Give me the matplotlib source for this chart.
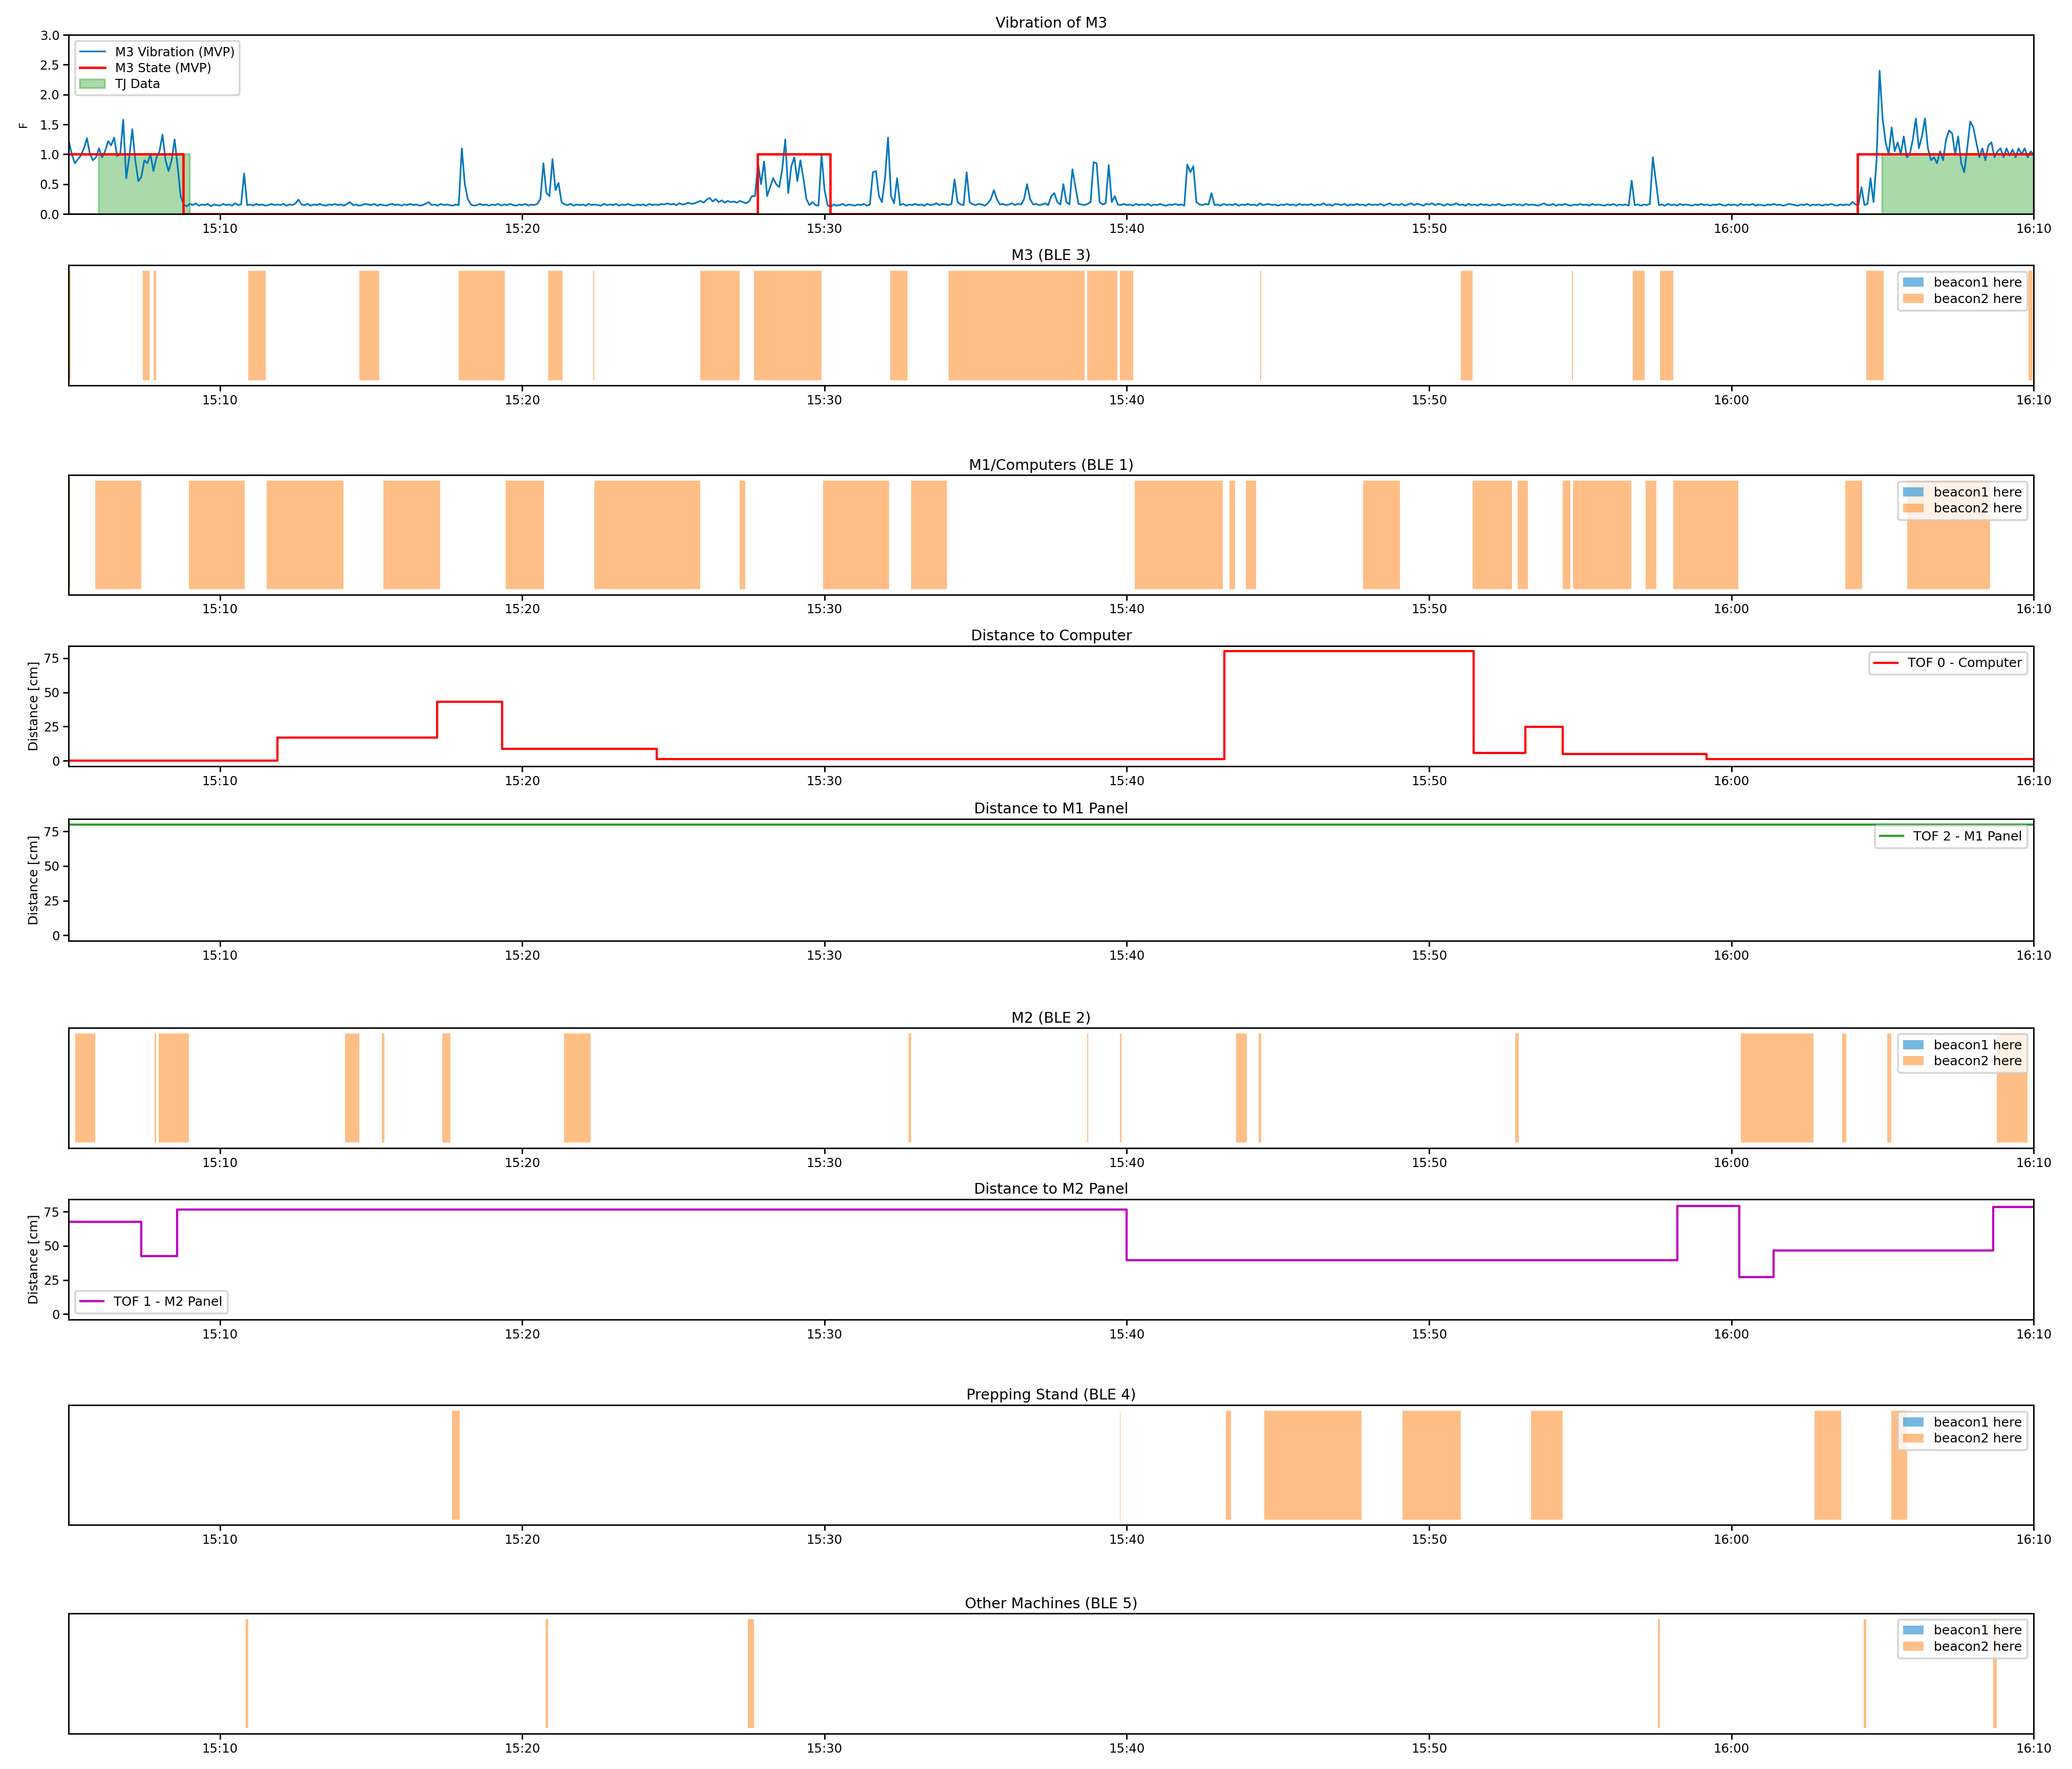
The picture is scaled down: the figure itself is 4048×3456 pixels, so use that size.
import datetime as dt

import matplotlib
matplotlib.use("Agg")
import matplotlib.dates as mdates
import matplotlib.pyplot as plt
from matplotlib.patches import Patch
import numpy as np

BASE = dt.datetime(2023, 5, 10, 15, 0)   # minutes below are counted from 15:00
XLIM = (5.0, 70.0)

# M3 vibration, one reading every 0.1 min starting 15:05 (rows = one minute)
VIB_START, VIB_STEP = 5.0, 0.1
VIB = [
    1.22, 1.00, 0.85, 0.92, 0.98, 1.10, 1.27, 1.00, 0.90, 0.95,  # 5
    1.10, 0.95, 1.05, 1.22, 1.15, 1.28, 0.97, 1.00, 1.58, 0.60,  # 6
    0.95, 1.42, 0.90, 0.55, 0.62, 0.90, 0.85, 1.00, 0.72, 0.95,  # 7
    1.05, 1.33, 0.90, 0.72, 0.90, 1.25, 0.80, 0.30, 0.16, 0.13,  # 8
    0.17, 0.15, 0.18, 0.14, 0.16, 0.15, 0.17, 0.13, 0.16, 0.15,  # 9
    0.14, 0.17, 0.15, 0.16, 0.14, 0.18, 0.15, 0.16, 0.68, 0.15,  # 10
    0.16, 0.14, 0.17, 0.15, 0.16, 0.14, 0.15, 0.17, 0.15, 0.16,  # 11
    0.15, 0.17, 0.14, 0.16, 0.15, 0.18, 0.24, 0.16, 0.15, 0.17,  # 12
    0.14, 0.16, 0.15, 0.17, 0.15, 0.14, 0.16, 0.15, 0.17, 0.15,  # 13
    0.16, 0.14, 0.17, 0.20, 0.15, 0.16, 0.14, 0.15, 0.17, 0.16,  # 14
    0.15, 0.17, 0.14, 0.16, 0.15, 0.14, 0.16, 0.17, 0.15, 0.16,  # 15
    0.14, 0.16, 0.15, 0.17, 0.15, 0.16, 0.14, 0.15, 0.17, 0.20,  # 16
    0.15, 0.16, 0.14, 0.17, 0.15, 0.16, 0.15, 0.14, 0.16, 0.15,  # 17
    1.10, 0.50, 0.25, 0.16, 0.14, 0.15, 0.17, 0.15, 0.16, 0.14,  # 18
    0.16, 0.15, 0.17, 0.14, 0.16, 0.15, 0.17, 0.15, 0.14, 0.16,  # 19
    0.15, 0.17, 0.14, 0.16, 0.15, 0.17, 0.25, 0.85, 0.35, 0.30,  # 20
    0.92, 0.40, 0.52, 0.20, 0.16, 0.15, 0.17, 0.14, 0.16, 0.15,  # 21
    0.16, 0.14, 0.17, 0.15, 0.16, 0.15, 0.14, 0.17, 0.15, 0.16,  # 22
    0.15, 0.17, 0.14, 0.16, 0.15, 0.17, 0.15, 0.14, 0.16, 0.15,  # 23
    0.16, 0.14, 0.17, 0.15, 0.16, 0.15, 0.17, 0.16, 0.18, 0.16,  # 24
    0.17, 0.15, 0.18, 0.16, 0.17, 0.19, 0.17, 0.18, 0.20, 0.22,  # 25
    0.19, 0.24, 0.27, 0.21, 0.25, 0.20, 0.23, 0.19, 0.22, 0.20,  # 26
    0.21, 0.19, 0.22, 0.20, 0.18, 0.21, 0.30, 0.30, 0.85, 0.50,  # 27
    0.88, 0.30, 0.45, 0.60, 0.50, 0.45, 0.75, 1.25, 0.35, 0.80,  # 28
    0.95, 0.55, 0.90, 0.60, 0.25, 0.15, 0.20, 0.15, 0.14, 1.00,  # 29
    0.40, 0.15, 0.12, 0.16, 0.14, 0.15, 0.17, 0.14, 0.16, 0.15,  # 30
    0.14, 0.16, 0.15, 0.17, 0.14, 0.16, 0.70, 0.72, 0.30, 0.20,  # 31
    0.60, 1.28, 0.30, 0.18, 0.60, 0.15, 0.17, 0.14, 0.16, 0.15,  # 32
    0.17, 0.15, 0.16, 0.14, 0.17, 0.15, 0.16, 0.18, 0.15, 0.17,  # 33
    0.16, 0.15, 0.17, 0.58, 0.20, 0.16, 0.15, 0.70, 0.20, 0.16,  # 34
    0.15, 0.17, 0.16, 0.14, 0.18, 0.25, 0.40, 0.25, 0.16, 0.17,  # 35
    0.15, 0.16, 0.18, 0.15, 0.17, 0.16, 0.25, 0.50, 0.25, 0.16,  # 36
    0.17, 0.15, 0.16, 0.18, 0.15, 0.30, 0.35, 0.20, 0.16, 0.50,  # 37
    0.20, 0.16, 0.75, 0.45, 0.17, 0.16, 0.15, 0.17, 0.20, 0.87,  # 38
    0.85, 0.20, 0.16, 0.18, 0.82, 0.20, 0.30, 0.16, 0.15, 0.17,  # 39
    0.15, 0.16, 0.14, 0.17, 0.15, 0.16, 0.15, 0.17, 0.14, 0.16,  # 40
    0.15, 0.17, 0.15, 0.14, 0.16, 0.15, 0.17, 0.15, 0.16, 0.14,  # 41
    0.83, 0.70, 0.80, 0.20, 0.16, 0.15, 0.17, 0.16, 0.35, 0.15,  # 42
    0.16, 0.14, 0.17, 0.15, 0.16, 0.15, 0.17, 0.14, 0.16, 0.15,  # 43
    0.17, 0.15, 0.16, 0.14, 0.18, 0.15, 0.16, 0.17, 0.15, 0.16,  # 44
    0.14, 0.16, 0.15, 0.17, 0.15, 0.16, 0.14, 0.17, 0.15, 0.16,  # 45
    0.15, 0.17, 0.14, 0.16, 0.15, 0.18, 0.15, 0.16, 0.14, 0.17,  # 46
    0.16, 0.15, 0.17, 0.14, 0.16, 0.15, 0.17, 0.15, 0.16, 0.14,  # 47
    0.17, 0.15, 0.16, 0.15, 0.17, 0.14, 0.16, 0.18, 0.15, 0.16,  # 48
    0.15, 0.17, 0.14, 0.16, 0.18, 0.15, 0.17, 0.16, 0.14, 0.17,  # 49
    0.16, 0.18, 0.15, 0.17, 0.16, 0.14, 0.17, 0.15, 0.16, 0.18,  # 50
    0.15, 0.16, 0.14, 0.17, 0.15, 0.16, 0.14, 0.17, 0.15, 0.16,  # 51
    0.14, 0.16, 0.15, 0.17, 0.15, 0.14, 0.16, 0.15, 0.17, 0.15,  # 52
    0.16, 0.14, 0.17, 0.15, 0.16, 0.15, 0.14, 0.16, 0.18, 0.15,  # 53
    0.15, 0.17, 0.14, 0.16, 0.15, 0.17, 0.15, 0.14, 0.16, 0.15,  # 54
    0.17, 0.15, 0.16, 0.14, 0.17, 0.15, 0.16, 0.15, 0.14, 0.16,  # 55
    0.15, 0.17, 0.14, 0.16, 0.15, 0.16, 0.14, 0.56, 0.15, 0.16,  # 56
    0.14, 0.16, 0.15, 0.17, 0.95, 0.55, 0.15, 0.16, 0.14, 0.17,  # 57
    0.15, 0.16, 0.14, 0.17, 0.15, 0.16, 0.15, 0.14, 0.16, 0.15,  # 58
    0.17, 0.15, 0.16, 0.14, 0.16, 0.15, 0.17, 0.15, 0.14, 0.16,  # 59
    0.15, 0.16, 0.14, 0.17, 0.15, 0.16, 0.15, 0.17, 0.14, 0.16,  # 60
    0.15, 0.14, 0.16, 0.15, 0.17, 0.15, 0.16, 0.14, 0.15, 0.17,  # 61
    0.16, 0.15, 0.14, 0.16, 0.15, 0.17, 0.14, 0.16, 0.15, 0.16,  # 62
    0.14, 0.16, 0.15, 0.17, 0.15, 0.14, 0.16, 0.15, 0.16, 0.15,  # 63
    0.20, 0.16, 0.15, 0.45, 0.15, 0.17, 0.60, 0.20, 0.90, 2.40,  # 64
    1.60, 1.20, 1.00, 1.45, 1.05, 1.20, 1.00, 1.30, 0.95, 1.00,  # 65
    1.25, 1.60, 1.10, 1.30, 1.60, 1.10, 0.90, 0.95, 0.85, 1.05,  # 66
    0.90, 1.25, 1.40, 1.35, 1.00, 1.30, 0.85, 0.70, 1.10, 1.55,  # 67
    1.45, 1.20, 0.95, 1.10, 0.90, 1.15, 1.20, 0.95, 1.05, 1.10,  # 68
    0.95, 1.10, 0.98, 1.08, 0.95, 1.10, 1.00, 1.10, 0.95, 1.05,  # 69
    1.00,
]

# machine state (MVP) and TJ reference, step values from each time on
STATE_T = [5.0, 8.78, 27.78, 30.18, 64.17, 70.0]
STATE_V = [1, 0, 1, 0, 1, 1]
TJ_T = [5.0, 5.99, 9.0, 64.98, 70.0]
TJ_V = [0, 1, 0, 1, 1]

# BLE presence intervals (start, end) in minutes after 15:00, beacon2
BLE3 = [(5.0, 5.06), (7.45, 7.67), (7.80, 7.88), (10.94, 11.51), (14.61, 15.27),
        (17.89, 19.42), (20.86, 21.34), (22.34, 22.39), (25.88, 27.19),
        (27.67, 29.90), (32.17, 32.74), (34.10, 38.60), (38.68, 39.69),
        (39.78, 40.21), (44.41, 44.45), (51.05, 51.44), (54.72, 54.76),
        (56.73, 57.12), (57.64, 58.08), (64.46, 65.03), (69.83, 69.96)]
BLE1 = [(5.0, 5.05), (5.87, 7.40), (8.98, 10.81), (11.55, 14.09), (15.40, 17.28),
        (19.46, 20.73), (22.39, 25.88), (27.19, 27.37), (29.95, 32.13),
        (32.87, 34.05), (40.26, 43.18), (43.40, 43.58), (43.93, 44.27),
        (47.81, 49.04), (51.44, 52.75), (52.92, 53.27), (54.41, 54.67),
        (54.76, 56.68), (57.16, 57.51), (58.08, 60.22), (63.76, 64.33),
        (65.81, 68.56)]
BLE2 = [(5.22, 5.87), (7.84, 7.88), (7.97, 8.98), (14.13, 14.61), (15.35, 15.44),
        (17.36, 17.63), (21.38, 22.26), (32.78, 32.87), (38.68, 38.73),
        (39.78, 39.82), (43.62, 43.97), (44.36, 44.45), (52.84, 52.97),
        (60.31, 62.71), (63.67, 63.80), (65.16, 65.29), (68.78, 69.79)]
BLE4 = [(17.67, 17.93), (39.78, 39.79), (43.27, 43.44), (44.54, 47.77),
        (49.12, 51.05), (53.36, 54.41), (62.75, 63.63), (65.29, 65.81)]
BLE5 = [(10.85, 10.94), (20.77, 20.86), (27.46, 27.67), (57.56, 57.64),
        (64.37, 64.46), (68.65, 68.78)]

# time-of-flight distances [cm], step values from each time on
TOF0_T = [5.0, 11.90, 17.19, 19.33, 24.44, 43.23, 51.48, 53.19, 54.41, 59.17, 70.0]
TOF0_V = [0, 17, 43, 8.5, 1.3, 80, 5.7, 24.8, 4.8, 1.0, 1.0]
TOF2_T = [5.0, 70.0]
TOF2_V = [80, 80]
TOF1_T = [5.0, 7.40, 8.58, 39.99, 58.21, 60.26, 61.40, 68.65, 70.0]
TOF1_V = [67.5, 42.4, 76.5, 39.5, 79.3, 27.3, 46.8, 78.3, 78.3]

plt.rcParams.update({
    "font.size": 7, "axes.titlesize": 8, "axes.labelsize": 7,
    "legend.fontsize": 7, "xtick.labelsize": 6.8, "ytick.labelsize": 6.8,
    "axes.linewidth": 0.8,
})

ORANGE = dict(color="tab:orange", alpha=0.5)
BLUE = dict(color="#3a9bd5", alpha=0.7)

L, W = 0.0332, 0.9482
RECTS = {
    "vib": [L, 0.879, W, 0.1013],
    "ble3": [L, 0.782, W, 0.068],
    "ble1": [L, 0.6639, W, 0.0675],
    "tof0": [L, 0.5669, W, 0.068],
    "tof2": [L, 0.4682, W, 0.0688],
    "ble2": [L, 0.351, W, 0.068],
    "tof1": [L, 0.254, W, 0.068],
    "ble4": [L, 0.1379, W, 0.0678],
    "ble5": [L, 0.020, W, 0.068],
}


def tnum(mins):
    return mdates.date2num(BASE) + np.asarray(mins, dtype=float) / 1440.0


def time_axis(ax):
    ax.set_xlim(tnum(XLIM))
    ax.xaxis.set_major_locator(mdates.MinuteLocator(byminute=[0, 10, 20, 30, 40, 50]))
    ax.xaxis.set_major_formatter(mdates.DateFormatter("%H:%M"))
    ax.tick_params(length=3, pad=2)


def ble_panel(ax, spans, title):
    for s, e in spans:
        ax.fill_between(tnum([s, e]), 0, 1, lw=0, **ORANGE)
    ax.set_ylim(-0.05, 1.05)
    ax.set_yticks([])
    ax.set_title(title, pad=3)
    time_axis(ax)
    handles = [Patch(facecolor=BLUE["color"], alpha=BLUE["alpha"]),
               Patch(facecolor=ORANGE["color"], alpha=ORANGE["alpha"])]
    ax.legend(handles, ["beacon1 here", "beacon2 here"], loc="upper right",
              handlelength=1.6, borderpad=0.4, labelspacing=0.3)


def tof_panel(ax, ts, vs, color, label, title, loc):
    ax.step(tnum(ts), vs, where="post", color=color, lw=1.2, label=label)
    ax.set_ylim(-4, 84)
    ax.set_yticks([0, 25, 50, 75])
    ax.set_ylabel("Distance [cm]", labelpad=2)
    ax.set_title(title, pad=3)
    time_axis(ax)
    ax.legend(loc=loc, handlelength=1.8)


def main():
    fig = plt.figure(figsize=(15.68, 13.385), dpi=258.2)

    ax = fig.add_axes(RECTS["vib"])
    vt = VIB_START + VIB_STEP * np.arange(len(VIB))
    ax.plot(tnum(vt), VIB, color="#0077bb", lw=0.9, label="M3 Vibration (MVP)")
    ax.step(tnum(STATE_T), STATE_V, where="post", color="red", lw=1.3,
            label="M3 State (MVP)")
    ax.fill_between(tnum(TJ_T), TJ_V, step="post", color="tab:green", alpha=0.4,
                    lw=1.0, label="TJ Data")
    ax.set_ylim(0, 3)
    ax.set_yticks(np.arange(0, 3.01, 0.5))
    ax.set_ylabel("F", fontsize=6, labelpad=6)
    ax.set_title("Vibration of M3", pad=4)
    time_axis(ax)
    ax.legend(loc="upper left", fontsize=6.8, handlelength=2.0, labelspacing=0.3)

    ble_panel(fig.add_axes(RECTS["ble3"]), BLE3, "M3 (BLE 3)")
    ble_panel(fig.add_axes(RECTS["ble1"]), BLE1, "M1/Computers (BLE 1)")
    tof_panel(fig.add_axes(RECTS["tof0"]), TOF0_T, TOF0_V, "red",
              "TOF 0 - Computer", "Distance to Computer", "upper right")
    tof_panel(fig.add_axes(RECTS["tof2"]), TOF2_T, TOF2_V, "tab:green",
              "TOF 2 - M1 Panel", "Distance to M1 Panel", "upper right")
    ble_panel(fig.add_axes(RECTS["ble2"]), BLE2, "M2 (BLE 2)")
    tof_panel(fig.add_axes(RECTS["tof1"]), TOF1_T, TOF1_V, "m",
              "TOF 1 - M2 Panel", "Distance to M2 Panel", "lower left")
    ble_panel(fig.add_axes(RECTS["ble4"]), BLE4, "Prepping Stand (BLE 4)")
    ble_panel(fig.add_axes(RECTS["ble5"]), BLE5, "Other Machines (BLE 5)")

    fig.savefig("out.png", dpi=258.2)
    plt.close(fig)


if __name__ == "__main__":
    main()
